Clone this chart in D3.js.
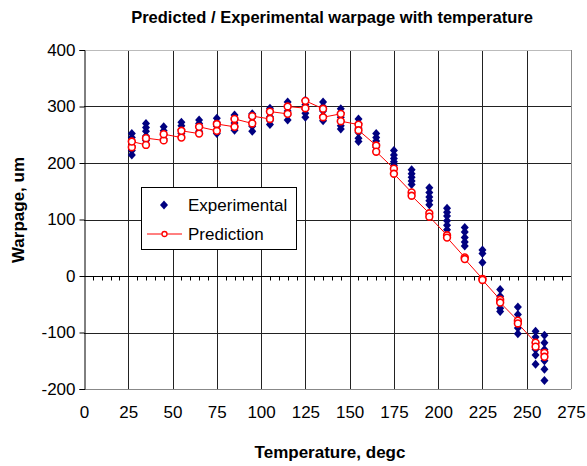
<!DOCTYPE html>
<html>
<head>
<meta charset="utf-8">
<script src="https://cdn.jsdelivr.net/npm/d3@7"></script>
<style>
  html, body { margin: 0; padding: 0; background: #fff; }
  text { font-family: "Liberation Sans", Arial, sans-serif; }
</style>
</head>
<body>
<svg id="chart" width="587" height="466"></svg>
<script>
// Test temperatures (degc)
const temperatures = [27, 35, 45, 55, 65, 75, 85, 95, 105, 115, 125, 135, 145,
  155, 165, 175, 185, 195, 205, 215, 225, 235, 245, 255, 260];

// Measured warpage (um), several samples at each temperature
const experimental = [
  [252, 245, 238, 230, 222, 214],
  [270, 263, 256, 248, 240],
  [264, 257, 250, 243],
  [272, 266, 259, 252],
  [276, 270, 263, 256],
  [279, 272, 265, 258, 252],
  [285, 278, 271, 264, 258],
  [287, 280, 272, 265, 256],
  [297, 290, 282, 275, 268],
  [308, 300, 292, 285, 276],
  [311, 303, 295, 288, 281],
  [308, 300, 292, 283, 275],
  [296, 289, 281, 273, 266, 260],
  [278, 270, 262, 254, 244, 238],
  [252, 245, 239, 233, 228],
  [222, 214, 208, 202, 196],
  [188, 181, 175, 168, 162],
  [156, 148, 140, 133, 126],
  [120, 113, 106, 98, 90, 82],
  [86, 78, 68, 60, 53],
  [46, 40, 24],
  [-24, -36, -48, -57, -63],
  [-55, -68, -80, -92, -102],
  [-98, -108, -118, -130, -140, -156],
  [-105, -118, -130, -150, -165, -185]
];

// Predicted warpage (um), two model values per temperature, in path order
const prediction = [
  [228, 238], [232, 244], [240, 251], [245, 257], [252, 264], [257, 269],
  [264, 278], [270, 283], [278, 291], [287, 300], [297, 310], [296, 281],
  [287, 274], [268, 258], [231, 220], [190, 181], [148, 142], [111, 105],
  [72, 68], [33, 30], [-5, -7], [-42, -47], [-79, -84], [-118, -125], [-136, -143]
];

const xTicks = [0, 25, 50, 75, 100, 125, 150, 175, 200, 225, 250, 275];
const yTicks = [-200, -100, 0, 100, 200, 300, 400];

const svg = d3.select("#chart");
const x = d3.scaleLinear().domain([0, 275]).range([84, 571]);
const y = d3.scaleLinear().domain([-200, 400]).range([389, 50]);
const px = v => Math.round(v) + 0.5;
const plain = d => String(d);

// Diamond marker, slightly taller than wide
const diamondPath = (hw, hh) => `M0,${-hh}L${hw},0L0,${hh}L${-hw},0Z`;

// Title
svg.append("text")
  .attr("x", 332).attr("y", 23)
  .attr("text-anchor", "middle")
  .attr("font-size", 16.5).attr("font-weight", "bold")
  .text("Predicted / Experimental warpage with temperature");

// Grid
const grid = svg.append("g");
grid.selectAll("line.v").data(xTicks.slice(1)).join("line")
  .attr("x1", d => px(x(d))).attr("x2", d => px(x(d)))
  .attr("y1", y(400)).attr("y2", y(-200))
  .attr("stroke", d => d === 275 ? "#888" : "#222").attr("stroke-width", 1);
grid.selectAll("line.h").data(yTicks).join("line")
  .attr("x1", x(0)).attr("x2", x(275))
  .attr("y1", d => px(y(d))).attr("y2", d => px(y(d)))
  .attr("stroke", d => d === 400 ? "#bbb" : (d === -200 ? "#888" : "#222"))
  .attr("stroke-width", 1);

// Y axis on the left
const yAxis = d3.axisLeft(y).tickValues(yTicks).tickSize(5).tickPadding(4)
  .tickFormat(plain);
const yg = svg.append("g").attr("transform", `translate(${px(x(0))},0)`).call(yAxis);
yg.select(".domain").attr("stroke", "#000");
yg.selectAll(".tick line").attr("stroke", "#000");
yg.selectAll(".tick text").attr("font-size", 17)
  .attr("font-family", "'Liberation Sans', Arial, sans-serif").attr("fill", "#000");

// X axis line through zero with minor ticks
const zeroY = px(y(0));
svg.append("line").attr("x1", x(0)).attr("x2", x(275))
  .attr("y1", zeroY).attr("y2", zeroY).attr("stroke", "#000");
const minor = d3.range(5, 275, 5).filter(d => d % 25 !== 0);
svg.append("g").selectAll("line").data(minor).join("line")
  .attr("x1", d => px(x(d))).attr("x2", d => px(x(d)))
  .attr("y1", zeroY).attr("y2", zeroY + 4).attr("stroke", "#000");

// X tick labels along the bottom
const xAxis = d3.axisBottom(x).tickValues(xTicks).tickSize(0).tickPadding(0)
  .tickFormat(plain);
const xg = svg.append("g").attr("transform", `translate(0,406)`).call(xAxis);
xg.select(".domain").remove();
xg.selectAll(".tick text").attr("font-size", 17)
  .attr("font-family", "'Liberation Sans', Arial, sans-serif").attr("fill", "#000");

// Axis titles
svg.append("text")
  .attr("x", 330).attr("y", 458)
  .attr("text-anchor", "middle")
  .attr("font-size", 17).attr("font-weight", "bold")
  .text("Temperature, degc");
svg.append("text")
  .attr("transform", "translate(24,210) rotate(-90)")
  .attr("text-anchor", "middle")
  .attr("font-size", 17).attr("font-weight", "bold")
  .text("Warpage, um");

// Experimental points as navy diamonds
const expPoints = temperatures.flatMap((t, i) => experimental[i].map(v => ({ t, v })));
svg.append("g").selectAll("path").data(expPoints).join("path")
  .attr("d", diamondPath(4, 4.5))
  .attr("transform", d => `translate(${x(d.t)},${y(d.v)})`)
  .attr("fill", "#000080");

// Prediction line with open circle markers
const predPoints = temperatures.flatMap((t, i) => prediction[i].map(v => ({ t, v })));
const line = d3.line().x(d => x(d.t)).y(d => y(d.v));
svg.append("path").datum(predPoints)
  .attr("d", line).attr("fill", "none")
  .attr("stroke", "#ff0000").attr("stroke-width", 1);
svg.append("g").selectAll("circle").data(predPoints).join("circle")
  .attr("cx", d => x(d.t)).attr("cy", d => y(d.v)).attr("r", 3.4)
  .attr("fill", "#fff").attr("stroke", "#ff0000").attr("stroke-width", 1.6);

// Legend
const lg = svg.append("g");
lg.append("rect").attr("x", 141.5).attr("y", 187.5).attr("width", 155).attr("height", 62)
  .attr("fill", "#fff").attr("stroke", "#000");
lg.append("path").attr("d", diamondPath(4, 4.5))
  .attr("transform", "translate(164,205)").attr("fill", "#000080");
lg.append("text").attr("x", 188).attr("y", 211).attr("font-size", 17).text("Experimental");
lg.append("line").attr("x1", 147).attr("x2", 182).attr("y1", 234).attr("y2", 234)
  .attr("stroke", "#ff0000");
lg.append("circle").attr("cx", 164.5).attr("cy", 234).attr("r", 2.5)
  .attr("fill", "#fff").attr("stroke", "#ff0000").attr("stroke-width", 1.3);
lg.append("text").attr("x", 188).attr("y", 240).attr("font-size", 17).text("Prediction");
</script>
</body>
</html>
